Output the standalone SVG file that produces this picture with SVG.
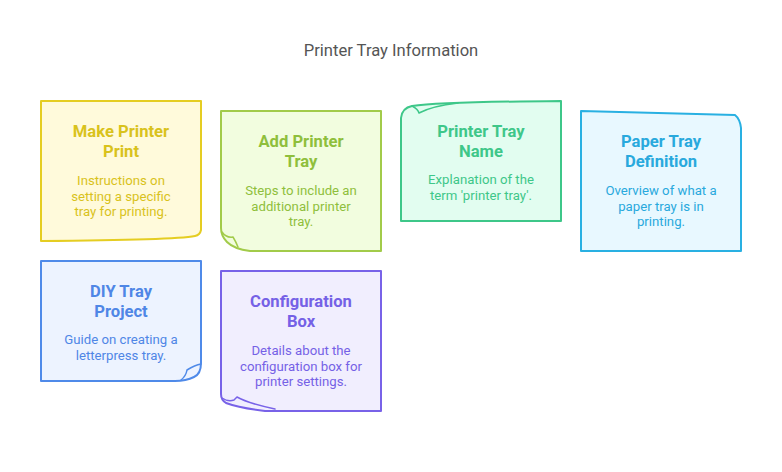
<svg xmlns="http://www.w3.org/2000/svg" width="782" height="472" viewBox="0 0 782 472">
<style>
text{font-family:Roboto,"Liberation Sans",sans-serif;text-anchor:middle}
.t{font-size:16.6px;font-weight:bold}
.d{font-size:13.2px}
.box{stroke-width:2;stroke-linejoin:round}
.flap{fill:none;stroke-width:1.5;stroke-linejoin:round;stroke-linecap:round}
.y .box{fill:#fffadb;stroke:#e5cd22}.y text{fill:#d9c21c}.y .flap{stroke:#e5cd22}
.g .box{fill:#f2fddf;stroke:#a2cb4a}.g text{fill:#8fbf3c}.g .flap{stroke:#a2cb4a}
.m .box{fill:#e2fdf0;stroke:#3ec789}.m text{fill:#3ec789}.m .flap{stroke:#3ec789}
.c .box{fill:#e8f8ff;stroke:#29b0e2}.c text{fill:#29a9dd}.c .flap{stroke:#29b0e2}
.b .box{fill:#edf3ff;stroke:#4f8ae9}.b text{fill:#4f86e6}.b .flap{stroke:#4f8ae9}
.p .box{fill:#f1eefe;stroke:#7862e8}.p text{fill:#7561e6}.p .flap{stroke:#7862e8}
</style>
<rect width="782" height="472" fill="#ffffff"/>
<text x="391" y="56" style="font-size:16.6px;fill:#555555">Printer Tray Information</text>
<g id="connectors"></g>
<g id="make-printer-print" class="y">
<path class="box" d="M41,101 L201,101 L201,230 Q200,235 195,236 Q175,240 41,241 Z"/>
<text class="t" x="121" y="137">Make Printer</text>
<text class="t" x="121" y="157">Print</text>
<text class="d" x="121" y="185">Instructions on</text>
<text class="d" x="121" y="200.5">setting a specific</text>
<text class="d" x="121" y="216">tray for printing.</text>
</g>
<g id="add-printer-tray" class="g">
<path class="box" d="M221,111 L381,111 L381,251 L250,251 Q234,249 227,242 Q221,236 221,228 Z"/>
<path class="flap" d="M222,232 Q226,238 233,237 Q236,242 238,247"/>
<text class="t" x="301" y="147">Add Printer</text>
<text class="t" x="301" y="167">Tray</text>
<text class="d" x="301" y="195">Steps to include an</text>
<text class="d" x="301" y="210.5">additional printer</text>
<text class="d" x="301" y="226">tray.</text>
</g>
<g id="printer-tray-name" class="m">
<path class="box" d="M401,221 L401,118 Q402,108 412,106 Q440,102 561,101 L561,221 Z"/>
<path class="flap" d="M412,106 Q418,109 419,113 Q432,106 458,103"/>
<text class="t" x="481" y="137">Printer Tray</text>
<text class="t" x="481" y="157">Name</text>
<text class="d" x="481" y="184">Explanation of the</text>
<text class="d" x="481" y="199.5">term 'printer tray'.</text>
</g>
<g id="paper-tray-definition" class="c">
<path class="box" d="M581,111 L735,115 Q740,119 741,128 L741,251 L581,251 Z"/>
<text class="t" x="661" y="147">Paper Tray</text>
<text class="t" x="661" y="167">Definition</text>
<text class="d" x="661" y="195">Overview of what a</text>
<text class="d" x="661" y="210.5">paper tray is in</text>
<text class="d" x="661" y="226">printing.</text>
</g>
<g id="diy-tray-project" class="b">
<path class="box" d="M41,261 L201,261 L201,363 Q201,374 194,377 Q186,381 175,381 L41,381 Z"/>
<path class="flap" d="M201,364 Q195,365 187,370 Q186,376 181,380"/>
<text class="t" x="121" y="297">DIY Tray</text>
<text class="t" x="121" y="317">Project</text>
<text class="d" x="121" y="344">Guide on creating a</text>
<text class="d" x="121" y="359.5">letterpress tray.</text>
</g>
<g id="configuration-box" class="p">
<path class="box" d="M221,271 L381,271 L381,411 L265,411 Q240,408 226,403 Q221,400 221,394 Z"/>
<path class="flap" d="M222,398 Q228,402 234,400 L237,397 Q247,403 275,409"/>
<text class="t" x="301" y="307">Configuration</text>
<text class="t" x="301" y="327">Box</text>
<text class="d" x="301" y="355">Details about the</text>
<text class="d" x="301" y="370.5">configuration box for</text>
<text class="d" x="301" y="386">printer settings.</text>
</g>
</svg>
